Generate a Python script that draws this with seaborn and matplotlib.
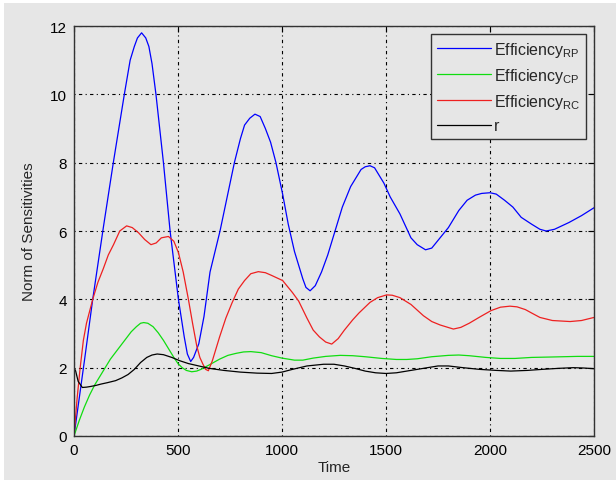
import numpy as np
import pandas as pd
import matplotlib
matplotlib.use('Agg')
import matplotlib.pyplot as plt
import seaborn as sns
from matplotlib.patches import Rectangle

# values
t_rp = [0, 50, 90, 141, 189, 242, 270, 290, 305, 325, 345, 360, 375, 394, 430, 462, 502, 530, 545,
        561, 575, 600, 625, 654, 702, 771, 800, 820, 845, 870, 895, 920, 945, 971, 1003, 1030,
        1060, 1100, 1115, 1135, 1160, 1190, 1220, 1255, 1290, 1330, 1380, 1400, 1423, 1445, 1470,
        1490, 1520, 1567, 1620, 1650, 1690, 1720, 1760, 1800, 1850, 1890, 1930, 1960, 2000, 2030,
        2070, 2110, 2150, 2200, 2240, 2270, 2310, 2380, 2440, 2500]
eff_rp = [0, 2.2, 4.0, 6.1, 8.0, 10.0, 11.0, 11.4, 11.65, 11.8, 11.65, 11.4, 10.9, 10.0, 8.0, 6.0, 4.0, 2.9, 2.4,
          2.18, 2.3, 2.7, 3.5, 4.8, 6.0, 8.0, 8.7, 9.1, 9.3, 9.42, 9.35, 9.0, 8.6, 8.0, 7.08, 6.2,
          5.4, 4.6, 4.35, 4.25, 4.4, 4.8, 5.3, 6.0, 6.7, 7.3, 7.8, 7.88, 7.91, 7.85, 7.6,
          7.4, 7.0, 6.5, 5.8, 5.6, 5.45, 5.5, 5.8, 6.1, 6.6, 6.9, 7.05, 7.1, 7.12, 7.08,
          6.9, 6.7, 6.4, 6.2, 6.05, 6.0, 6.05, 6.25, 6.45, 6.68]

t_cp = [0, 25, 50, 75, 100, 125, 150, 175, 200, 225, 250, 275, 300, 320, 335, 355, 380, 405, 430,
        455, 480, 500, 520, 540, 566, 590, 610, 650, 700, 740, 780, 815, 850, 900, 950, 1000,
        1060, 1100, 1150, 1210, 1280, 1340, 1400, 1480, 1550, 1600, 1650, 1720, 1800, 1850, 1900,
        1980, 2050, 2120, 2200, 2280, 2350, 2420, 2500]
eff_cp = [0, 0.45, 0.85, 1.2, 1.5, 1.75, 2.0, 2.25, 2.45, 2.65, 2.85, 3.05, 3.2, 3.3, 3.32, 3.3, 3.2, 3.02, 2.8,
          2.55, 2.3, 2.12, 2.0, 1.92, 1.88, 1.9, 1.95, 2.08, 2.25, 2.36, 2.42, 2.46, 2.47, 2.44, 2.35, 2.28,
          2.22, 2.22, 2.28, 2.33, 2.36, 2.35, 2.32, 2.27, 2.24, 2.24, 2.26, 2.32, 2.36, 2.37, 2.35,
          2.3, 2.27, 2.27, 2.3, 2.31, 2.32, 2.33, 2.33]

t_rc = [0, 15, 29, 45, 60, 90, 115, 141, 165, 190, 220, 253, 280, 310, 340, 370, 395, 420, 454,
        480, 502, 525, 550, 570, 590, 605, 620, 633, 646, 665, 700, 730, 760, 790, 820, 850, 886,
        920, 950, 1003, 1050, 1080, 1120, 1150, 1180, 1210, 1239, 1270, 1300, 1340, 1370, 1423,
        1460, 1503, 1530, 1567, 1620, 1680, 1720, 1760, 1824, 1860, 1900, 1950, 2005, 2050, 2096,
        2130, 2170, 2200, 2240, 2300, 2385, 2440, 2500]
eff_rc = [0, 1.1, 1.96, 2.8, 3.3, 4.0, 4.5, 4.9, 5.3, 5.6, 6.0, 6.15, 6.1, 5.95, 5.75, 5.6, 5.65, 5.8, 5.84,
          5.7, 5.37, 4.8, 4.0, 3.3, 2.64, 2.3, 2.1, 1.95, 1.91, 2.2, 2.9, 3.45, 3.9, 4.3, 4.55, 4.75, 4.81,
          4.78, 4.7, 4.55, 4.2, 3.95, 3.45, 3.1, 2.9, 2.75, 2.69, 2.85, 3.1, 3.4, 3.6, 3.91,
          4.05, 4.13, 4.12, 4.05, 3.85, 3.52, 3.35, 3.25, 3.13, 3.18, 3.3, 3.48, 3.67, 3.77, 3.80,
          3.78, 3.7, 3.6, 3.47, 3.38, 3.35, 3.38, 3.47]

t_r = [0, 8, 20, 40, 60, 80, 105, 130, 160, 200, 230, 260, 290, 320, 350, 375, 400, 430, 470,
       510, 550, 600, 650, 720, 800, 880, 950, 1000, 1050, 1120, 1200, 1250, 1300, 1350, 1400,
       1450, 1500, 1550, 1600, 1680, 1750, 1800, 1870, 1950, 2030, 2100, 2180, 2250, 2330, 2400,
       2450, 2500]
r_val = [2.0, 1.9, 1.6, 1.42, 1.43, 1.45, 1.48, 1.52, 1.56, 1.62, 1.7, 1.8, 1.95, 2.15, 2.3, 2.37, 2.4, 2.38, 2.3,
         2.2, 2.12, 2.05, 1.98, 1.92, 1.87, 1.84, 1.83, 1.87, 1.95, 2.05, 2.1, 2.1, 2.05, 1.98, 1.9,
         1.85, 1.83, 1.85, 1.9, 1.98, 2.05, 2.05, 2.0, 1.95, 1.92, 1.9, 1.92, 1.95, 1.98, 2.0,
         1.99, 1.97]

labels = ['Efficiency$_{RP}$', 'Efficiency$_{CP}$', 'Efficiency$_{RC}$', 'r']
colors = ['#0000ff', '#10dd10', '#ee2020', '#000000']

sns.set_style('white')
plt.rcParams['font.family'] = ['Liberation Sans', 'DejaVu Sans']
plt.rcParams['mathtext.fontset'] = 'custom'
plt.rcParams['mathtext.rm'] = 'Liberation Sans'
plt.rcParams['mathtext.default'] = 'regular'

bg = '#e6e6e6'
fig = plt.figure(figsize=(6.16, 4.81), dpi=100)
fig.patch.set_facecolor('white')
fig.add_artist(Rectangle((4 / 616, 0), 1, 1 - 4 / 481, transform=fig.transFigure,
                         facecolor=bg, edgecolor='none', zorder=-10))
ax = fig.add_axes([74 / 616, 1 - 437 / 481, 520 / 616, 410 / 481])
ax.set_facecolor(bg)

series = [(t_rp, eff_rp), (t_cp, eff_cp), (t_rc, eff_rc), (t_r, r_val)]
for (tt, vv), lab, col in zip(series, labels, colors):
    sns.lineplot(x=tt, y=vv, ax=ax, color=col, linewidth=0.9, label=lab, sort=False, estimator=None)

ax.set_xlim(0, 2500)
ax.set_ylim(0, 12)
ax.set_xticks([0, 500, 1000, 1500, 2000, 2500])
ax.set_yticks([0, 2, 4, 6, 8, 10, 12])
ax.grid(True, color='black', linestyle=(0, (1, 3, 3, 3)), linewidth=0.8)
ax.tick_params(direction='in', length=4, width=0.8, top=True, right=True,
               labelsize=11, colors='black', pad=5)
for s in ax.spines.values():
    s.set_color('#333333')
    s.set_linewidth(1.0)
ax.set_xlabel('Time', fontsize=11, labelpad=2)
ax.set_ylabel('Norm of Sensitivities', fontsize=11, labelpad=10)

leg = ax.legend(loc='upper right', fontsize=11.5, handlelength=3.4, frameon=True, fancybox=False,
                borderaxespad=0.5, labelspacing=0.45, handletextpad=0.2, borderpad=0.35)
leg.get_frame().set_edgecolor('#333333')
leg.get_frame().set_facecolor(bg)
leg.get_frame().set_alpha(1)
leg.get_frame().set_linewidth(1.0)

fig.savefig('out.png', dpi=100, facecolor=fig.get_facecolor())
